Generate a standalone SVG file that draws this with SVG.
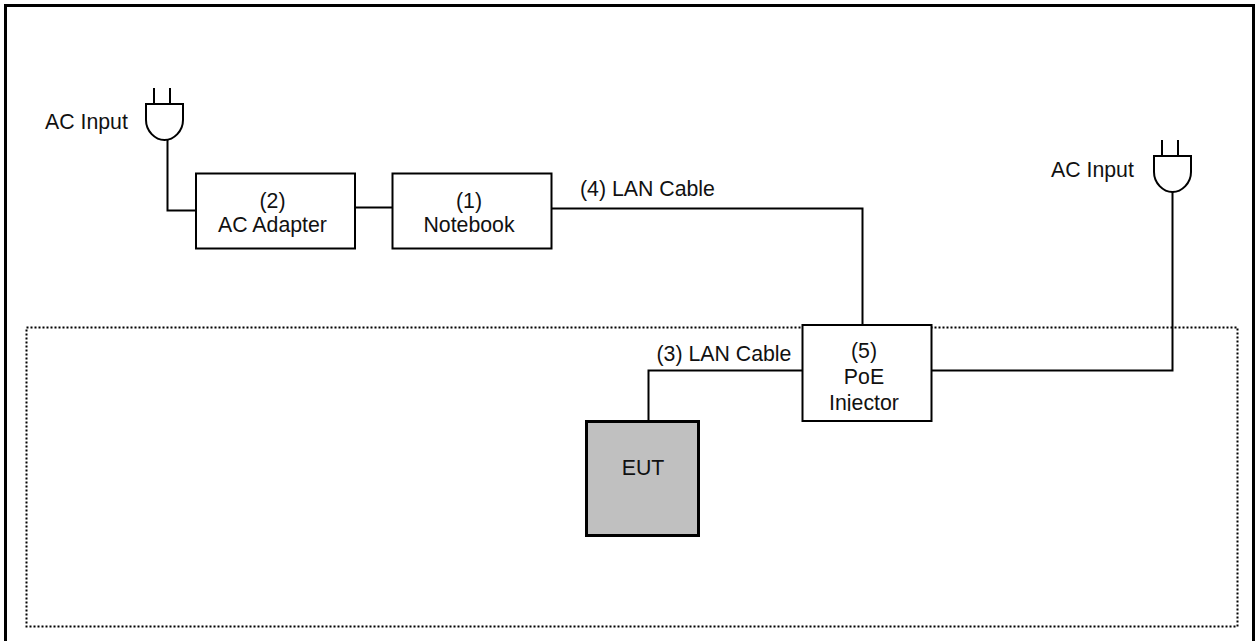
<svg xmlns="http://www.w3.org/2000/svg" width="1259" height="641" viewBox="0 0 1259 641">
<style>
text{font-family:"Liberation Sans",Arial,sans-serif;font-size:21.3px;fill:#111}
.m{text-anchor:middle}
.b{fill:#fff;stroke:#000;stroke-width:2}
.c{fill:none;stroke:#000;stroke-width:2}
.p{fill:#fff;stroke:#000;stroke-width:2}
</style>
<defs>
<clipPath id="inj"><rect x="803" y="326" width="128" height="85"/></clipPath>
<g id="plug"><path class="c" d="M8 0V16M24 0V16"/><path class="p" d="M0 16H37V32C37 43 28 52 18.500 52C9 52 0 43 0 32Z"/></g>
</defs>
<rect id="frame" x="5.500" y="5.500" width="1248" height="650" fill="#fff" stroke="#000" stroke-width="3"/>
<rect id="eut-zone" x="26.500" y="327.500" width="1211" height="299" fill="none" stroke="#000" stroke-width="2" stroke-dasharray="2 2"/>
<g id="connectors">
<path class="c" d="M167.500 140V210.500H196"/>
<path class="c" d="M355 207.500H392"/>
<path class="c" d="M551 208.500H862.500V325"/>
<path class="c" d="M802 370.500H648.500V421"/>
<path class="c" d="M931 370.500H1172.500V191"/>
</g>
<g id="plug-left"><use href="#plug" x="146" y="88"/><text x="45" y="129">AC Input</text></g>
<g id="plug-right"><use href="#plug" x="1154" y="140"/><text x="1051" y="177">AC Input</text></g>
<g id="adapter"><rect class="b" x="196" y="173.500" width="159" height="75"/><text class="m" x="272.500" y="208">(2)</text><text class="m" x="272.500" y="232">AC Adapter</text></g>
<g id="notebook"><rect class="b" x="392.500" y="173.500" width="159" height="75"/><text class="m" x="469" y="208">(1)</text><text class="m" x="469" y="232">Notebook</text></g>
<g id="poe"><rect class="b" x="802.500" y="325" width="129" height="96"/><text class="m" x="864" y="358">(5)</text><text class="m" x="864" y="384">PoE</text><g clip-path="url(#inj)"><text class="m" x="864" y="410">Injector</text></g></g>
<g id="eut"><rect x="586.500" y="421.500" width="112" height="114" fill="#c0c0c0" stroke="#000" stroke-width="3"/><text class="m" x="643" y="475">EUT</text></g>
<text id="label-4" x="580" y="196">(4) LAN Cable</text>
<text id="label-3" x="656.500" y="361">(3) LAN Cable</text>
</svg>
